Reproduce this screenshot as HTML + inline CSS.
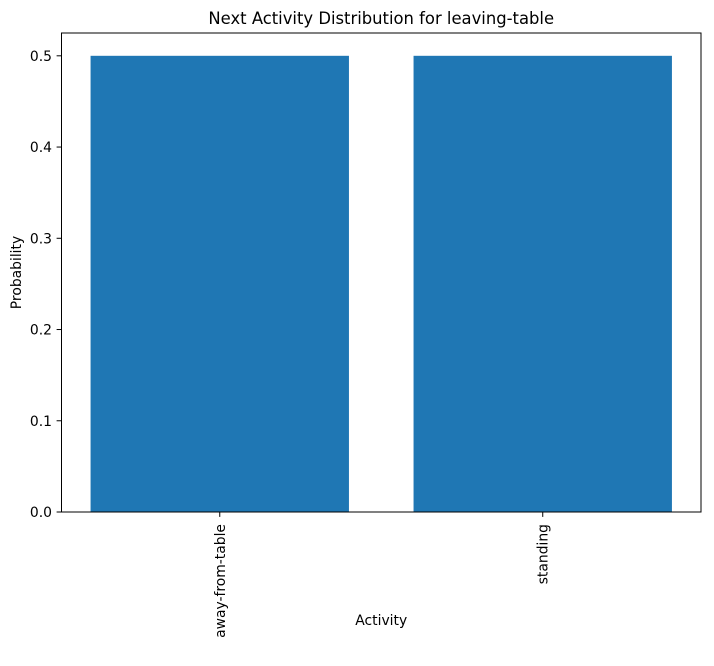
<!DOCTYPE html>
<html><head><meta charset="utf-8"><style>
body{margin:0;background:#fff;}
svg{display:block;font-family:"DejaVu Sans","Liberation Sans",sans-serif;}
</style></head><body>
<svg id="chart" width="714" height="666" viewBox="0 0 714 666"></svg>
<script>
const categories = ["away-from-table", "standing"];
const probabilities = [0.5, 0.5];
const yTicks = [0, 0.1, 0.2, 0.3, 0.4, 0.5];
const yTickLabels = ["0.0", "0.1", "0.2", "0.3", "0.4", "0.5"];

const svg = document.getElementById('chart');
const NS = 'http://www.w3.org/2000/svg';
const L = 61.5, R = 701, T = 33, B = 512;
const yMax = Math.max(...probabilities) * 1.05;
const xMin = -0.4 - 0.09, xMax = categories.length - 1 + 0.4 + 0.09;
const sx = v => L + (v - xMin) / (xMax - xMin) * (R - L);
const sy = v => B - v / yMax * (B - T);
function mk(tag, attrs, text) {
  const e = document.createElementNS(NS, tag);
  for (const k in attrs) e.setAttribute(k, attrs[k]);
  if (text !== undefined) e.textContent = text;
  svg.appendChild(e);
  return e;
}
probabilities.forEach((p, i) => {
  const r = mk('rect', {x: sx(i - 0.4), y: sy(p), width: sx(i + 0.4) - sx(i - 0.4), height: sy(0) - sy(p), fill: '#1f77b4'});
  
  
});
const frame = mk('rect', {x: L, y: T, width: R - L, height: B - T, fill: 'none', stroke: '#000', 'stroke-width': 1});


yTicks.forEach((v, i) => {
  const y = sy(v);
  const tk = mk('line', {x1: L - 4.9, x2: L, y1: y, y2: y, stroke: '#000', 'stroke-width': 1});
  
  
  const t = mk('text', {x: L - 9.5, y: y + 5, 'text-anchor': 'end', 'font-size': 13.9, fill: '#000'}, yTickLabels[i]);
  
  
});
categories.forEach((c, i) => {
  const x = sx(i);
  const tk = mk('line', {x1: x, x2: x, y1: B, y2: B + 4.9, stroke: '#000', 'stroke-width': 1});
  
  
  const t = mk('text', {x: x + 5, y: B + 12, 'text-anchor': 'end', 'font-size': 13.9, fill: '#000', transform: `rotate(-90 ${x + 5} ${B + 12})`}, c);
  
  
});
const title = mk('text', {x: (L + R) / 2, y: 24, 'text-anchor': 'middle', 'font-size': 16.4, fill: '#000'}, 'Next Activity Distribution for leaving-table');


const xl = mk('text', {x: (L + R) / 2, y: 625, 'text-anchor': 'middle', 'font-size': 13.9, fill: '#000'}, 'Activity');


const yl = mk('text', {x: 21, y: (T + B) / 2, 'text-anchor': 'middle', 'font-size': 13.9, fill: '#000', transform: `rotate(-90 21 ${(T + B) / 2})`}, 'Probability');


</script>
</body></html>
